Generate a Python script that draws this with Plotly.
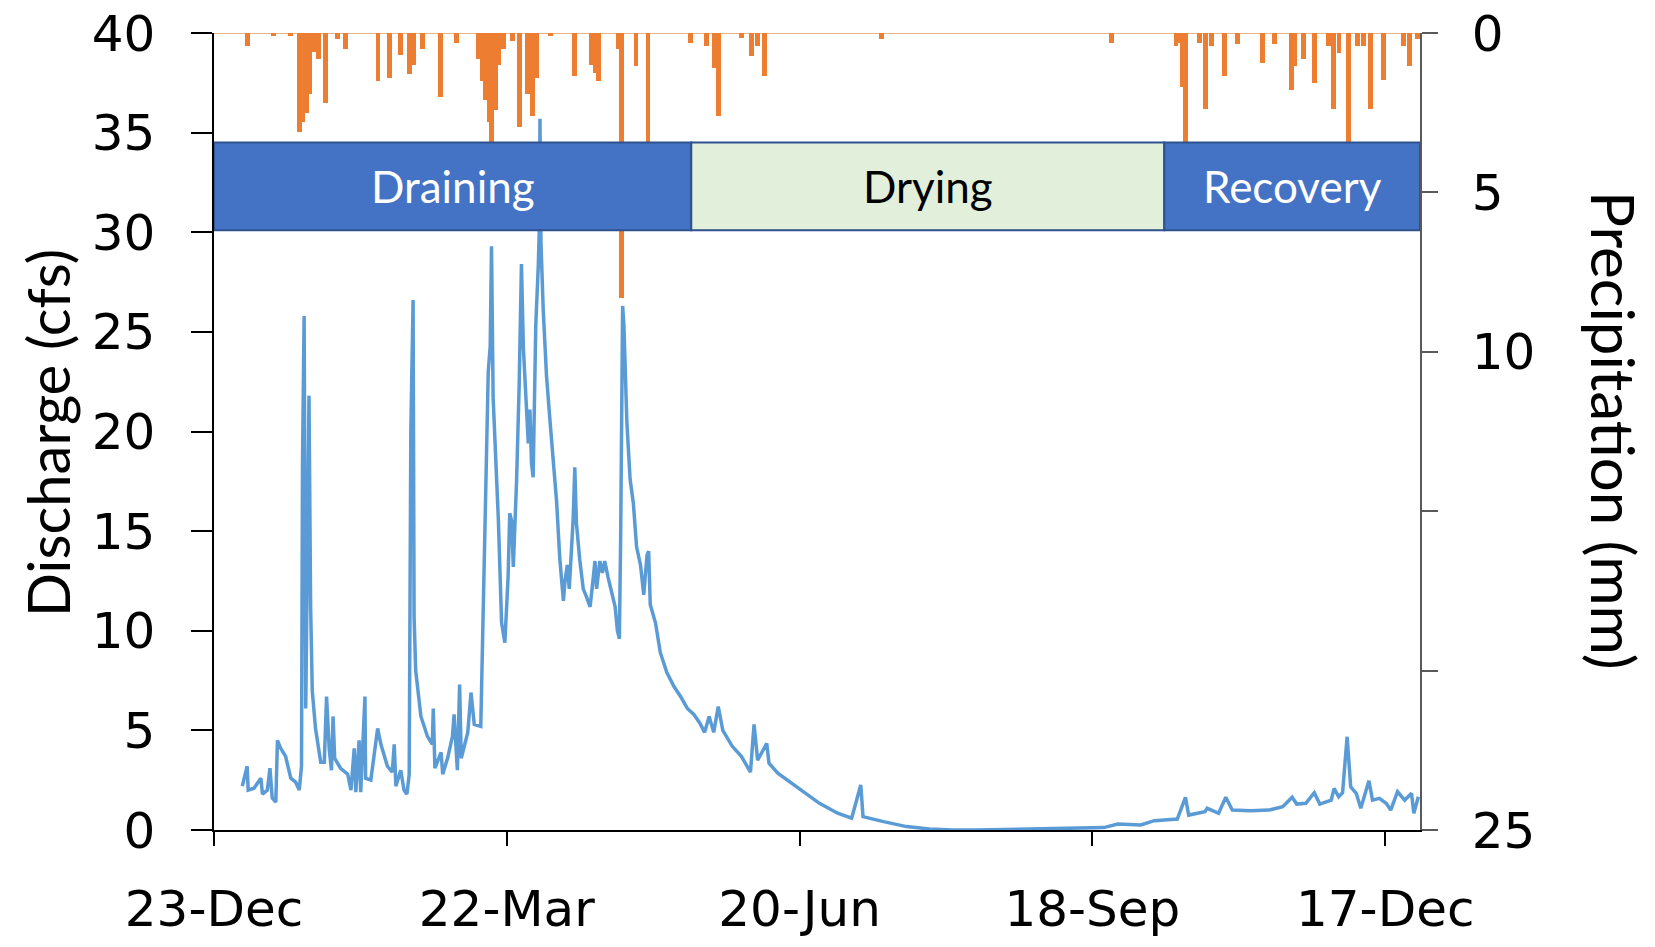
import pandas as pd
import plotly.graph_objects as go

# ---- data -------------------------------------------------------------
START = pd.Timestamp("2019-12-23")

# discharge record: days since START, discharge (cfs)
q_day = [8.7, 10.2, 10.5, 12.3, 14.4, 14.9, 16.4, 17.2, 17.9, 19.0, 19.5, 20.5, 22.0, 23.6,
         25.1, 26.2, 26.9, 27.2, 27.7, 28.2, 28.7, 29.2, 29.7, 30.2, 31.2, 32.8, 33.9, 34.6,
         35.4, 36.1, 36.6, 37.1, 38.9, 41.1, 42.1, 43.1, 43.6, 44.6, 45.1, 46.4, 46.6, 48.2,
         50.3, 51.3, 53.3, 54.8, 55.4, 55.9, 57.4, 58.4, 59.3, 60.0, 60.5, 61.2, 61.5, 62.0,
         63.6, 65.6, 67.1, 67.4, 67.9, 69.8, 70.3, 71.8, 73.3, 73.8, 74.8, 75.5, 76.0, 78.0,
         79.0, 80.0, 82.0, 82.5, 83.2, 83.8, 84.3, 84.9, 85.3, 85.8, 86.4, 86.9, 87.4, 87.9,
         88.4, 89.4, 89.9, 90.4, 90.9, 91.5, 92.0, 92.5, 93.0, 93.8, 94.5, 95.1, 95.6, 96.1,
         96.6, 97.1, 97.6, 98.1, 98.4, 98.9, 99.7, 100.0, 100.2, 100.5, 101.2, 102.2, 103.2,
         104.3, 105.3, 106.3, 107.4, 107.9, 108.6, 109.2, 110.4, 110.9, 111.4, 112.4, 113.5,
         114.5, 115.6, 116.6, 117.1, 117.6, 118.6, 119.4, 120.1, 121.1, 122.2, 123.3, 124.0,
         124.6, 125.0, 125.3, 125.6, 126.0, 126.9, 127.9, 128.9, 129.9, 131.1, 132.1, 133.1,
         133.6, 134.1, 135.7, 137.2, 139.2, 141.4, 143.4, 145.5, 147.5, 149.4, 150.8, 152.2,
         153.6, 155.0, 156.4, 159.3, 162.1, 164.9, 166.0, 167.1, 169.9, 170.6, 173.3, 177.6,
         181.8, 186.1, 191.7, 196.0, 198.8, 199.5, 205.8, 212.9, 219.9, 227.0, 234.0, 248.2,
         259.4, 266.5, 273.5, 277.8, 284.9, 289.0, 296.1, 298.6, 299.6, 304.6, 305.3, 308.8,
         311.0, 313.0, 318.6, 324.3, 328.5, 331.4, 332.8, 335.6, 338.2, 339.9, 343.4, 344.3,
         345.7, 346.9, 348.3, 349.4, 351.1, 352.5, 355.0, 356.1, 358.2, 360.3, 361.7, 363.8,
         366.0, 368.1, 368.8, 370.2]
q_cfs = [2.2, 3.2, 2.0, 2.1, 2.6, 1.8, 2.0, 3.1, 1.6, 1.4, 4.5, 4.1, 3.7, 2.6,
         2.4, 2.0, 3.2, 18.3, 25.8, 6.1, 13.7, 21.8, 11.2, 7.0, 5.1, 3.4, 3.4, 6.7,
         4.1, 3.0, 5.7, 3.6, 3.1, 2.8, 2.0, 4.1, 1.9, 4.5, 1.9, 6.7, 2.6, 2.5,
         5.1, 4.3, 3.2, 2.9, 4.3, 2.2, 3.0, 2.0, 1.8, 2.8, 20.0, 26.6, 10.7, 8.0,
         5.7, 4.7, 4.3, 6.1, 3.1, 3.9, 2.8, 3.6, 4.7, 5.8, 3.0, 7.3, 3.6, 4.9,
         6.9, 5.3, 5.2, 9.1, 13.4, 20.0, 23.0, 24.3, 29.3, 21.7, 18.8, 17.5, 15.6, 12.7,
         10.4, 9.4, 11.2, 12.7, 15.9, 15.5, 13.2, 15.4, 17.5, 22.3, 28.4, 24.2, 22.8, 20.7,
         19.4, 21.1, 18.4, 17.7, 20.3, 25.3, 28.4, 30.3, 35.7, 29.5, 26.1, 22.8, 20.7,
         18.4, 16.5, 13.6, 11.5, 12.5, 13.3, 12.1, 15.6, 18.2, 15.4, 13.6, 12.1,
         11.7, 11.2, 12.7, 13.5, 12.1, 13.5, 12.9, 13.5, 12.7, 11.9, 11.2, 10.0,
         9.6, 14.7, 22.3, 26.3, 25.3, 20.5, 17.6, 16.4, 14.2, 13.3, 11.8, 13.8,
         14.0, 11.3, 10.4, 8.9, 7.9, 7.2, 6.7, 6.1, 5.8, 5.35, 4.9, 5.7,
         4.9, 6.2, 5.0, 4.2, 3.7, 2.9, 5.3, 3.5, 4.35, 3.35, 2.85, 2.35,
         1.84, 1.34, 0.84, 0.59, 2.26, 0.67, 0.42, 0.17, 0.05, 0.0, 0.0, 0.03,
         0.08, 0.1, 0.12, 0.3, 0.25, 0.47, 0.55, 1.64, 0.75, 0.92, 1.09, 0.84,
         1.64, 1.0, 0.97, 1.0, 1.17, 1.64, 1.3, 1.34, 1.87, 1.3, 1.5, 2.09,
         1.67, 1.87, 4.68, 2.17, 1.84, 1.09, 2.47, 1.5, 1.59, 1.34, 1.0, 1.92,
         1.5, 1.84, 0.84, 1.67]

# precipitation events: days since START, depth (mm)
p_day = [10.4, 18.2, 23.6, 26.2, 27.2, 28.3, 29.4, 30.8, 32.1, 34.2, 37.9, 40.4,
         50.4, 53.9, 57.3, 60.0, 61.4, 64.2, 69.6, 74.5, 81.4, 82.4, 83.5, 84.7,
         85.4, 86.5, 87.4, 89.0, 91.8, 94.0, 96.3, 97.9, 99.0, 103.4, 110.8, 116.0,
         117.1, 118.3, 124.2, 125.3, 129.7, 133.4, 146.6, 151.5, 153.9, 155.2, 162.2,
         165.2, 167.1, 169.3, 205.2, 275.8, 295.7, 297.2, 297.8, 298.7, 302.9, 304.8,
         306.6, 310.5, 314.6, 322.4, 326.0, 331.2, 332.2, 334.8, 338.3, 342.5, 344.1,
         345.8, 348.6, 351.6, 353.4, 355.6, 359.5, 365.7, 367.4, 369.8]
p_mm = [0.4, 0.1, 0.1, 3.1, 2.8, 2.5, 1.9, 0.6, 0.8, 2.2, 0.2, 0.5,
        1.5, 1.4, 0.7, 1.3, 1.0, 0.5, 2.0, 0.3, 0.8, 1.5, 2.1, 2.8,
        3.9, 2.4, 1.0, 0.5, 0.24, 2.95, 1.9, 2.6, 1.4, 0.1, 1.35, 1.0,
        1.25, 1.5, 0.5, 8.3, 1.05, 3.6, 0.3, 0.4, 1.1, 2.6, 0.15,
        0.72, 0.4, 1.36, 0.2, 0.3, 0.4, 0.3, 1.7, 3.7, 0.3, 2.37,
        0.4, 1.36, 0.35, 0.94, 0.35, 1.79, 1.04, 0.83, 1.57, 0.4, 2.37,
        0.62, 3.5, 0.4, 0.4, 2.37, 1.47, 0.4, 1.04, 0.2]

# hydrologic phases: name, start/end (days since START)
phase_names = ["Draining", "Drying", "Recovery"]
phase_start = [0.0, 146.7, 292.1]
phase_end = [146.7, 292.1, 370.7]
phase_fill = ["#4472C4", "#E2EFDA", "#4472C4"]
phase_text = ["white", "black", "white"]
phase_low_cfs, phase_high_cfs = 30.1, 34.5

x_tick_days = [0, 90, 180, 270, 360]
x_end_day = 370.7
q_ticks = list(range(0, 41, 5))
p_ticks = [0, 5, 10, 15, 20, 25]
p_ticktext = ["0", "5", "10", "", "", "25"]


def to_date(days):
    return [START + pd.Timedelta(days=d) for d in days]


# ---- figure -----------------------------------------------------------
W, H = 1655, 947
ML, MR, MT, MB = 214, 235, 33, 117
PW = W - ML - MR
PH = H - MT - MB

tick_font = dict(family="DejaVu Sans", size=50, color="black")
label_font = "Lato"

fig = go.Figure()

fig.add_trace(go.Scatter(
    x=to_date(q_day), y=q_cfs, mode="lines",
    line=dict(color="#5B9BD5", width=3.5),
    name="Discharge", yaxis="y", showlegend=False,
))

fig.add_trace(go.Bar(
    x=to_date(p_day), y=p_mm, width=1.5 * 86400000,
    marker=dict(color="#ED7D31", line=dict(width=0)),
    name="Precipitation", yaxis="y2", showlegend=False,
))

shapes = []
annotations = []
for name, s, e, fill, tc in zip(phase_names, phase_start, phase_end, phase_fill, phase_text):
    d0, d1 = to_date([s, e])
    shapes.append(dict(
        type="rect", xref="x", yref="y", x0=d0, x1=d1,
        y0=phase_low_cfs, y1=phase_high_cfs,
        fillcolor=fill, line=dict(color="#2F528F", width=2), layer="above",
    ))
    mid = START + pd.Timedelta(days=(s + e) / 2)
    annotations.append(dict(
        x=mid, y=(phase_low_cfs + phase_high_cfs) / 2, xref="x", yref="y",
        text=name, showarrow=False, xanchor="center", yanchor="middle",
        font=dict(family=label_font, size=44, color=tc),
    ))

# precipitation baseline along the top edge
shapes.append(dict(
    type="line", xref="paper", yref="y2", x0=0, x1=1, y0=0, y1=0,
    line=dict(color="#E39B64", width=1.5), layer="below",
))

# axis titles
annotations.append(dict(
    x=(47 - ML) / PW, y=(H - MB - 433) / PH, xref="paper", yref="paper",
    xanchor="center", yanchor="middle",
    text="Discharge (cfs)", textangle=-90, showarrow=False,
    font=dict(family=label_font, size=58, color="black"),
))
annotations.append(dict(
    x=(1614 - ML) / PW, y=(H - MB - 430) / PH, xref="paper", yref="paper",
    xanchor="center", yanchor="middle",
    text="Precipitation (mm)", textangle=90, showarrow=False,
    font=dict(family=label_font, size=60, color="black"),
))

fig.update_layout(
    width=W, height=H,
    margin=dict(l=ML, r=MR, t=MT, b=MB, autoexpand=False),
    paper_bgcolor="white", plot_bgcolor="white",
    showlegend=False, bargap=0,
    shapes=shapes, annotations=annotations,
    xaxis=dict(
        range=to_date([0, x_end_day]),
        tickvals=to_date(x_tick_days), tickformat="%d-%b",
        ticks="outside", ticklen=14, tickwidth=1.5, tickcolor="black",
        showline=True, linecolor="black", linewidth=1.5,
        showgrid=False, zeroline=False, tickfont=tick_font,
        ticklabelstandoff=20,
    ),
    yaxis=dict(
        range=[0, 40], tickvals=q_ticks,
        ticks="outside", ticklen=21, tickwidth=1.5, tickcolor="black",
        showline=True, linecolor="black", linewidth=1.5,
        showgrid=False, zeroline=False, tickfont=tick_font,
        ticklabelstandoff=26,
    ),
    yaxis2=dict(
        overlaying="y", side="right", range=[25, 0],
        tickvals=p_ticks, ticktext=p_ticktext,
        ticks="outside", ticklen=16, tickwidth=1.5, tickcolor="#595959",
        showline=True, linecolor="#595959", linewidth=1.5,
        showgrid=False, zeroline=False, tickfont=tick_font,
        ticklabelstandoff=24,
    ),
)

fig.write_html("out.html")
